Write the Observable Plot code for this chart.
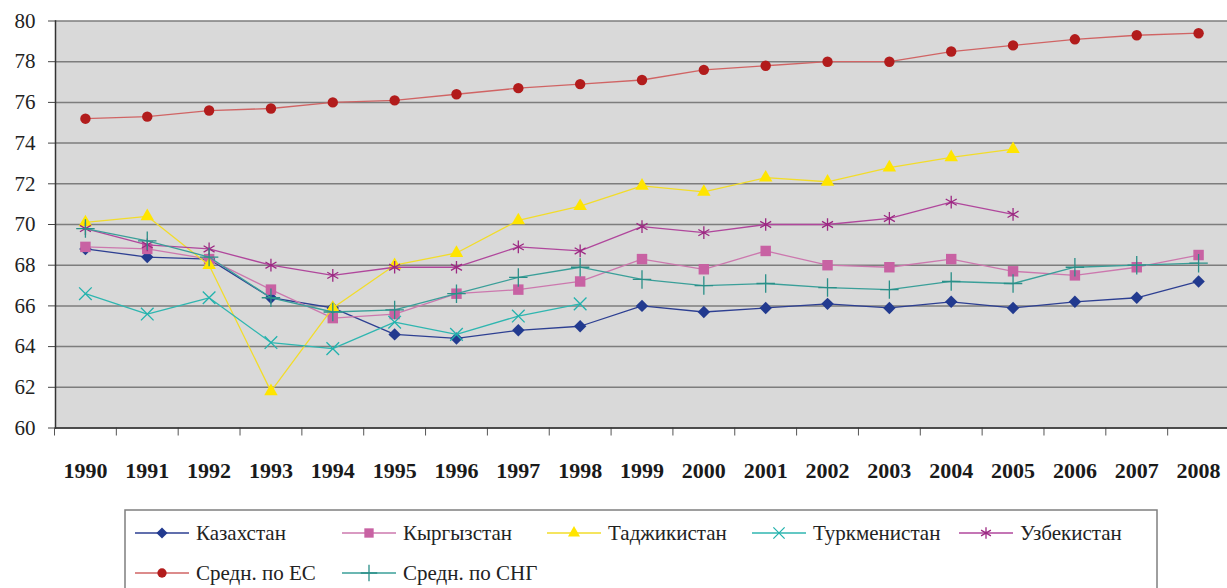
<!DOCTYPE html>
<html><head><meta charset="utf-8">
<script src="https://cdn.jsdelivr.net/npm/d3@7"></script>
<script src="https://cdn.jsdelivr.net/npm/@observablehq/plot@0.6"></script>
<style>
html,body{margin:0;padding:0;background:#fff;}
#chart{position:relative;width:1227px;height:588px;overflow:hidden;}
#chart svg{display:block;}
#chart svg text{font-family:"Liberation Serif","LiberationSerif","Liberation Serif Regular","DejaVu Serif","Noto Serif","FreeSerif","Times New Roman",Times,serif !important;}
</style></head><body><div id="chart"></div>
<script>
const years = [1990,1991,1992,1993,1994,1995,1996,1997,1998,1999,2000,2001,2002,2003,2004,2005,2006,2007,2008];
const kazakhstan   = [68.8,68.4,68.3,66.4,65.9,64.6,64.4,64.8,65.0,66.0,65.7,65.9,66.1,65.9,66.2,65.9,66.2,66.4,67.2];
const kyrgyzstan   = [68.9,68.8,68.3,66.8,65.4,65.6,66.6,66.8,67.2,68.3,67.8,68.7,68.0,67.9,68.3,67.7,67.5,67.9,68.5];
const tajikistan   = [70.1,70.4,68.0,61.8,65.9,68.0,68.6,70.2,70.9,71.9,71.6,72.3,72.1,72.8,73.3,73.7,null,null,null];
const turkmenistan = [66.6,65.6,66.4,64.2,63.9,65.2,64.6,65.5,66.1,null,null,null,null,null,null,null,null,null,null];
const uzbekistan   = [69.8,69.0,68.8,68.0,67.5,67.9,67.9,68.9,68.7,69.9,69.6,70.0,70.0,70.3,71.1,70.5,null,null,null];
const euAverage    = [75.2,75.3,75.6,75.7,76.0,76.1,76.4,76.7,76.9,77.1,77.6,77.8,78.0,78.0,78.5,78.8,79.1,79.3,79.4];
const cisAverage   = [69.8,69.2,68.4,66.4,65.7,65.8,66.6,67.4,67.9,67.3,67.0,67.1,66.9,66.8,67.2,67.1,67.9,68.0,68.1];
const seriesNames  = ["Казахстан","Кыргызстан","Таджикистан","Туркменистан","Узбекистан","Средн. по ЕС","Средн. по СНГ"];
const yTicks = [60,62,64,66,68,70,72,74,76,78,80];

const seriesValues = [kazakhstan,kyrgyzstan,tajikistan,turkmenistan,uzbekistan,euAverage,cisAverage];
const styles = [
  {line:"#2d3f92", color:"#223a8f", symbol:"diamond2", filled:true,  r:5.6},
  {line:"#cc78ae", color:"#c862a3", symbol:"square",   filled:true,  r:5.9},
  {line:"#f2dc2a", color:"#ffe500", symbol:"triangle", filled:true,  r:5.0},
  {line:"#2fb6b0", color:"#22b2ad", symbol:"times",    filled:false, r:5.8},
  {line:"#b0479c", color:"#9c2882", symbol:"asterisk", filled:false, r:6.0},
  {line:"#d06464", color:"#b21c1c", symbol:"circle",   filled:true,  r:5.2},
  {line:"#3a9f99", color:"#2a8f88", symbol:"plus",     filled:false, r:6.0}
];

const rows = seriesNames.map((name, k) => years.map((year, i) => ({year, value: seriesValues[k][i], name})));
const boundaries = [years[0] - 0.5, ...years.map(y => y + 0.5)];

const marks = [
  Plot.frame({fill: "#d9d9d9", stroke: "none"}),
  Plot.gridY(yTicks, {stroke: "#7d7d7d", strokeOpacity: 1, strokeWidth: 1.5}),
  Plot.axisY(yTicks, {tickSize: 7, tickPadding: 13, fontSize: 21, stroke: "#444", fill: "#222", label: null, tickFormat: d => String(d)}),
  Plot.axisX(boundaries, {tickSize: 8, stroke: "#555", label: null, tickFormat: () => null}),
  Plot.axisX(years, {tickSize: 0, tickPadding: 34.5, fontSize: 22, fontWeight: "bold", fill: "#1a1a1a", label: null, tickFormat: d => String(d)}),
  Plot.ruleY([60], {stroke: "#333", strokeWidth: 1.5}),
  Plot.frame({anchor: "left", stroke: "#333", strokeWidth: 1.5})
];
rows.forEach((data, k) => {
  const s = styles[k];
  marks.push(Plot.line(data, {x: "year", y: "value", stroke: s.line, strokeWidth: 1.3}));
  marks.push(Plot.dot(data.filter(d => d.value != null), {
    x: "year", y: "value", symbol: () => s.symbol, r: s.r,
    fill: s.filled ? s.color : "none",
    stroke: s.filled ? "none" : s.color,
    strokeWidth: s.filled ? 0 : 1.3
  }));
});

const chart = Plot.plot({
  width: 1227, height: 500,
  marginLeft: 55, marginRight: 0, marginTop: 20.5, marginBottom: 72.5,
  style: {fontFamily: "'Liberation Serif', serif", background: "transparent", overflow: "visible"},
  x: {domain: [1989.5, 2008.5], range: [54, 1229], axis: null, label: null},
  y: {domain: [60, 80], axis: null, label: null},
  symbol: {type: "identity"},
  marks
});
chart.querySelectorAll("text").forEach(t => t.setAttribute("font-family", "Liberation Serif"));
document.getElementById("chart").appendChild(chart);

// Legend below the chart
const leg = d3.select("#chart").append("svg").attr("width", 1227).attr("height", 88);
leg.append("rect").attr("x", 125).attr("y", 10).attr("width", 1032).attr("height", 100)
  .attr("fill", "#fff").attr("stroke", "#7f7f7f").attr("stroke-width", 1.5);
const legendPos = [[135,33],[342,33],[547,33],[752,33],[959,33],[135,73],[342,73]];
const symMap = {diamond2: d3.symbolDiamond2, square: d3.symbolSquare, triangle: d3.symbolTriangle,
  times: d3.symbolTimes, asterisk: d3.symbolAsterisk, circle: d3.symbolCircle, plus: d3.symbolPlus};
seriesNames.forEach((name, k) => {
  const s = styles[k];
  const [x, y] = legendPos[k];
  const g = leg.append("g");
  g.append("line").attr("x1", x).attr("x2", x + 54).attr("y1", y).attr("y2", y)
    .attr("stroke", s.line).attr("stroke-width", 1.5);
  g.append("path").attr("d", d3.symbol(symMap[s.symbol], Math.PI * s.r * s.r * 0.8)())
    .attr("transform", `translate(${x + 27},${y})`)
    .attr("fill", s.filled ? s.color : "none")
    .attr("stroke", s.filled ? "none" : s.color).attr("stroke-width", 1.3);
  g.append("text").attr("x", x + 61).attr("y", y).attr("dy", "0.35em")
    .attr("font-family", "Liberation Serif")
    .attr("font-size", 21).attr("fill", "#222").text(name);
});
</script></body></html>
